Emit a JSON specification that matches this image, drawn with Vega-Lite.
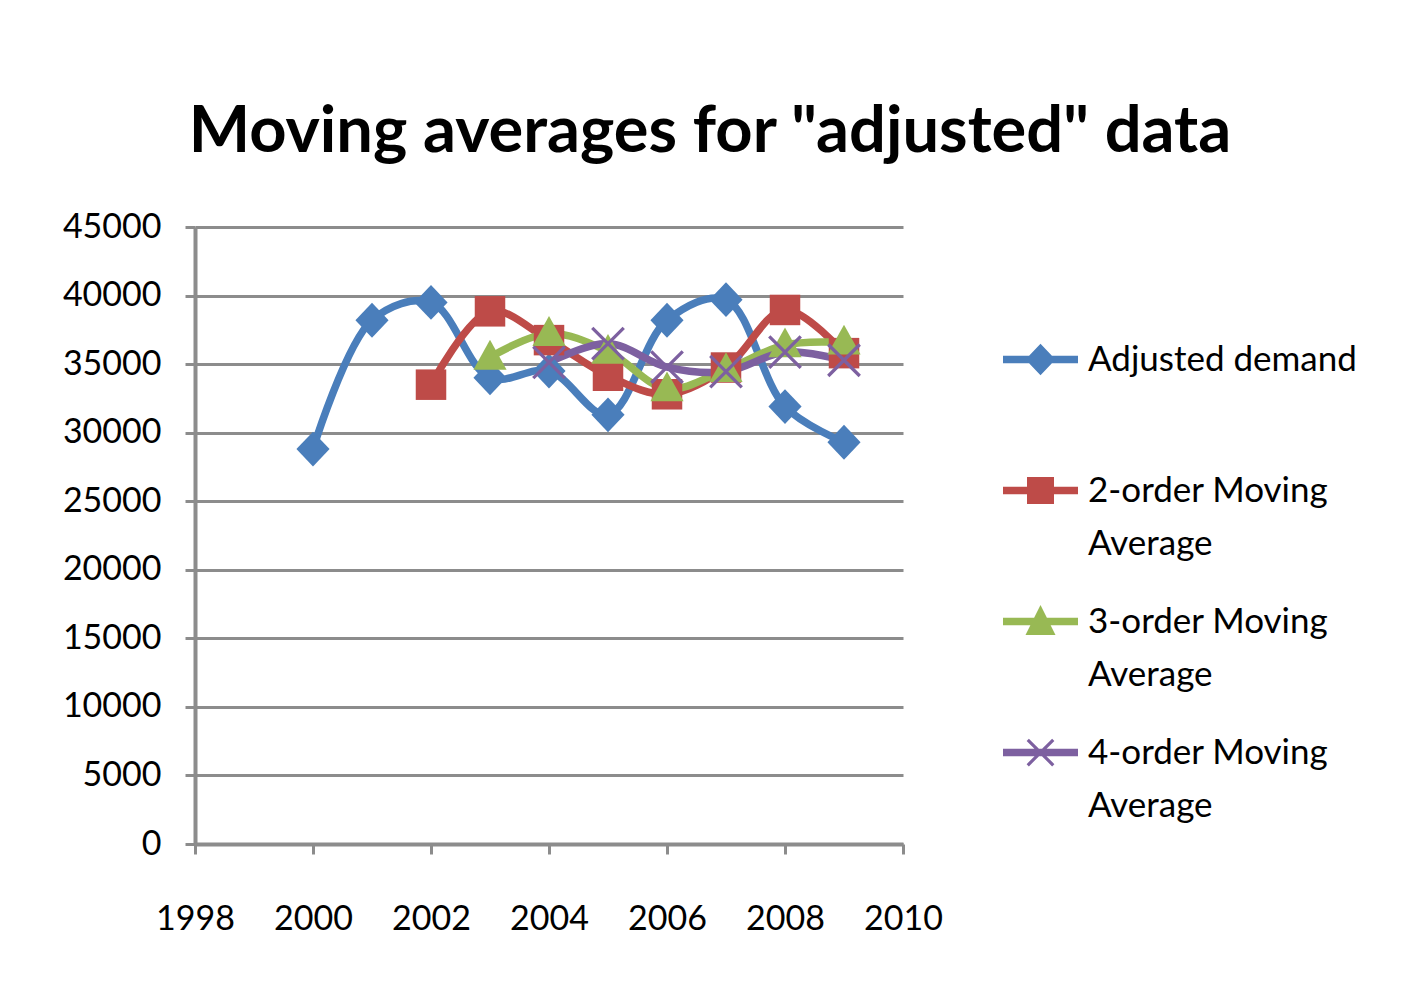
{
  "$schema": "https://vega.github.io/schema/vega-lite/v6.json",
  "width": 708,
  "height": 617,
  "padding": {"left": 62, "top": 100, "right": 10, "bottom": 10},
  "background": "white",
  "config": {"view": {"stroke": null}, "font": "Lato"},
  "title": {
    "text": "Moving averages for \"adjusted\" data",
    "font": "Lato",
    "fontSize": 65,
    "fontWeight": "bold",
    "color": "black",
    "anchor": "middle",
    "frame": "group",
    "dx": 161,
    "offset": 44
  },
  "data": {
    "values": [
      {"year": 2000, "series": "Adjusted demand", "value": 28800},
      {"year": 2001, "series": "Adjusted demand", "value": 38200},
      {"year": 2002, "series": "Adjusted demand", "value": 39500},
      {"year": 2003, "series": "Adjusted demand", "value": 34000},
      {"year": 2004, "series": "Adjusted demand", "value": 34500},
      {"year": 2005, "series": "Adjusted demand", "value": 31300},
      {"year": 2006, "series": "Adjusted demand", "value": 38200},
      {"year": 2007, "series": "Adjusted demand", "value": 39700},
      {"year": 2008, "series": "Adjusted demand", "value": 31900},
      {"year": 2009, "series": "Adjusted demand", "value": 29300},
      {"year": 2002, "series": "2-order Moving Average", "value": 33500},
      {"year": 2003, "series": "2-order Moving Average", "value": 38850},
      {"year": 2004, "series": "2-order Moving Average", "value": 36750},
      {"year": 2005, "series": "2-order Moving Average", "value": 34150},
      {"year": 2006, "series": "2-order Moving Average", "value": 32800},
      {"year": 2007, "series": "2-order Moving Average", "value": 34750},
      {"year": 2008, "series": "2-order Moving Average", "value": 38950},
      {"year": 2009, "series": "2-order Moving Average", "value": 35800},
      {"year": 2003, "series": "3-order Moving Average", "value": 35500},
      {"year": 2004, "series": "3-order Moving Average", "value": 37230},
      {"year": 2005, "series": "3-order Moving Average", "value": 35930},
      {"year": 2006, "series": "3-order Moving Average", "value": 33200},
      {"year": 2007, "series": "3-order Moving Average", "value": 34600},
      {"year": 2008, "series": "3-order Moving Average", "value": 36400},
      {"year": 2009, "series": "3-order Moving Average", "value": 36600},
      {"year": 2004, "series": "4-order Moving Average", "value": 35130},
      {"year": 2005, "series": "4-order Moving Average", "value": 36500},
      {"year": 2006, "series": "4-order Moving Average", "value": 34780},
      {"year": 2007, "series": "4-order Moving Average", "value": 34450},
      {"year": 2008, "series": "4-order Moving Average", "value": 35880},
      {"year": 2009, "series": "4-order Moving Average", "value": 35280}
    ]
  },
  "encoding": {
    "x": {
      "field": "year",
      "type": "quantitative",
      "scale": {"domain": [1998, 2010], "nice": false, "zero": false},
      "axis": {
        "title": null,
        "values": [1998, 2000, 2002, 2004, 2006, 2008, 2010],
        "format": "d",
        "grid": false,
        "domainColor": "#8c8c8c",
        "domainWidth": 4,
        "tickColor": "#8c8c8c",
        "tickWidth": 3,
        "tickSize": 10,
        "labelFont": "Lato",
        "labelFontSize": 34,
        "labelColor": "black",
        "labelPadding": 48,
        "labelFlush": false
      }
    },
    "y": {
      "field": "value",
      "type": "quantitative",
      "scale": {"domain": [0, 45000], "nice": false},
      "axis": {
        "title": null,
        "values": [0, 5000, 10000, 15000, 20000, 25000, 30000, 35000, 40000, 45000],
        "format": "d",
        "grid": true,
        "gridColor": "#8c8c8c",
        "gridWidth": 3,
        "domainColor": "#8c8c8c",
        "domainWidth": 4,
        "tickColor": "#8c8c8c",
        "tickWidth": 3,
        "tickSize": 10,
        "labelFont": "Lato",
        "labelFontSize": 34,
        "labelColor": "black",
        "labelPadding": 24
      }
    },
    "color": {
      "field": "series",
      "type": "nominal",
      "sort": null,
      "scale": {
        "domain": ["Adjusted demand", "2-order Moving Average", "3-order Moving Average", "4-order Moving Average"],
        "range": ["#4a7ebb", "#be4b48", "#98b954", "#7d60a0"]
      },
      "legend": {
        "orient": "none",
        "legendX": 808,
        "legendY": 95,
        "title": null,
        "padding": 0,
        "labelFont": "Lato",
        "labelFontSize": 35,
        "labelColor": "black",
        "labelLimit": 500,
        "labelOffset": 10,
        "rowPadding": 22,
        "symbolSize": 5625,
        "symbolType": "M-1,-0.1H1V0.1H-1Z",
        "symbolOpacity": 1,
        "symbolStrokeWidth": 0,
        "labelExpr": "datum.label == 'Adjusted demand' ? [datum.label, ' '] : [replace(datum.label, ' Average', ''), 'Average']",
        "encode": {
          "symbols": {
            "update": {
              "shape": {"signal": "datum.value == 'Adjusted demand' ? 'M-1,-0.1H1V0.1H-1Z M0,-0.42L0.4,0L0,0.42L-0.4,0Z' : datum.value == '2-order Moving Average' ? 'M-1,-0.1H1V0.1H-1Z M-0.36,-0.36H0.36V0.36H-0.36Z' : datum.value == '3-order Moving Average' ? 'M-1,-0.1H1V0.1H-1Z M0,-0.44L0.4,0.36L-0.4,0.36Z' : 'M-1,-0.1H1V0.1H-1Z M-0.31,-0.37L0.37,0.31L0.31,0.37L-0.37,-0.31Z M-0.37,0.31L0.31,-0.37L0.37,-0.31L-0.31,0.37Z'"},
              "fill": {"scale": "color", "field": "value"},
              "fillOpacity": {"value": 1},
              "strokeWidth": {"value": 0}
            }
          },
          "labels": {
            "update": {"lineHeight": {"value": 53}}
          }
        }
      }
    }
  },
  "layer": [
    {
      "mark": {"type": "line", "interpolate": "catmull-rom", "strokeWidth": 7.5, "strokeCap": "round", "strokeJoin": "round"}
    },
    {
      "transform": [{"filter": "datum.series == 'Adjusted demand'"}],
      "mark": {"type": "point", "filled": true, "size": 1100, "opacity": 1, "strokeWidth": 0, "shape": "M0,-1.05L1,0L0,1.05L-1,0Z"}
    },
    {
      "transform": [{"filter": "datum.series == '2-order Moving Average'"}],
      "mark": {"type": "point", "filled": true, "size": 1100, "opacity": 1, "strokeWidth": 0, "shape": "M-0.92,-0.92H0.92V0.92H-0.92Z"}
    },
    {
      "transform": [{"filter": "datum.series == '3-order Moving Average'"}],
      "mark": {"type": "point", "filled": true, "size": 1100, "opacity": 1, "strokeWidth": 0, "shape": "M0,-1.05L1,0.75L-1,0.75Z"}
    },
    {
      "transform": [{"filter": "datum.series == '4-order Moving Average'"}],
      "mark": {"type": "point", "filled": true, "size": 1100, "opacity": 1, "strokeWidth": 0, "shape": "M-0.88,-1.02L1.02,0.88L0.88,1.02L-1.02,-0.88Z M-1.02,0.88L0.88,-1.02L1.02,-0.88L-0.88,1.02Z"}
    }
  ]
}
